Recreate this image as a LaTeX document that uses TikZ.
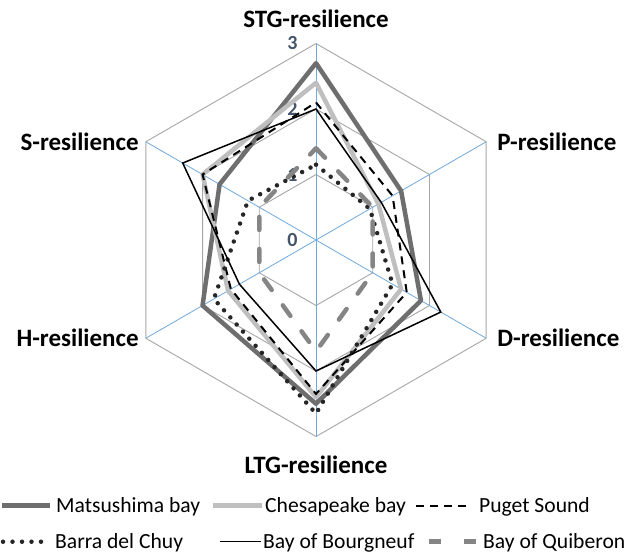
\documentclass[tikz,border=0pt]{standalone}
\usepackage{fontspec}
\setmainfont{Carlito}
\usetikzlibrary{positioning}
\definecolor{gridgray}{HTML}{A6A6A6}
\definecolor{spokeblue}{HTML}{6FA8DC}
\definecolor{tickblue}{HTML}{44546A}
\definecolor{matsugray}{HTML}{6E6E6E}
\definecolor{chesagray}{HTML}{BFBFBF}
\definecolor{quibgray}{HTML}{858585}
\begin{document}
\begin{tikzpicture}[x=1pt, y=1pt,
    gridline/.style={draw=gridgray, line width=0.9pt},
    spoke/.style={draw=spokeblue, line width=0.8pt},
    axlabel/.style={font=\bfseries\fontsize{25}{28}\selectfont, inner sep=0pt},
    ticklabel/.style={font=\bfseries\fontsize{20}{22}\selectfont, text=tickblue, anchor=east, inner sep=0pt},
    legtext/.style={font=\fontsize{21.6}{24}\selectfont, anchor=base west, inner sep=0pt},
    matsu/.style={draw=matsugray, line width=4.5pt, line join=round},
    chesa/.style={draw=chesagray, line width=4.5pt, line join=round},
    puget/.style={draw=black, line width=2pt, dash pattern=on 8pt off 6pt},
    barra/.style={draw=black!85, line width=4.5pt, line cap=round, dash pattern=on 0pt off 9.5pt},
    bourg/.style={draw=black, line width=1.5pt, line join=miter},
    quib/.style={draw=quibgray, line width=4.5pt, line cap=round, dash pattern=on 13pt off 19pt}]
    \useasboundingbox (0,0) rectangle (636,-555);
    \begin{scope}[shift={(316pt,-240pt)}, x=65.5pt, y=65.5pt]
        \foreach \r in {1, 2, 3} {
            \draw[gridline] (90:\r) \foreach \a in {30, -30, -90, -150, 150} { -- (\a:\r) } -- cycle;
        }
        \coordinate (O) at (0, 0);
        \coordinate (vSTG) at (90:3);
        \coordinate (vP) at (30:3);
        \coordinate (vD) at (-30:3);
        \coordinate (vLTG) at (-90:3);
        \coordinate (vH) at (-150:3);
        \coordinate (vS) at (150:3);
        \foreach \v in {vSTG, vP, vD, vLTG, vH, vS} {
            \draw[spoke] (O) -- (\v);
        }
        \foreach \r in {0, 1, 2, 3} {
            \node[ticklabel] (tick\r) at (-0.28, \r) {\r};
        }
        % series, in the order of the legend
        \draw[matsu] (90:2.7) -- (30:1.5) -- (-30:1.85) -- (-90:2.5) -- (-150:2.0) -- (150:1.7) -- cycle;
        \draw[chesa] (90:2.4) -- (30:1.1) -- (-30:1.5) -- (-90:2.4) -- (-150:1.55) -- (150:2.0) -- cycle;
        \draw[puget] (90:2.1) -- (30:1.35) -- (-30:1.6) -- (-90:2.35) -- (-150:1.5) -- (150:2.0) -- cycle;
        \draw[barra] (90:1.15) -- (30:0.95) -- (-30:1.35) -- (-90:2.65) -- (-150:1.8) -- (150:1.2) -- cycle;
        \draw[bourg] (90:2.0) -- (30:1.15) -- (-30:2.2) -- (-90:2.0) -- (-150:1.35) -- (150:2.35) -- cycle;
        \draw[quib] (90:1.4) -- (30:1.0) -- (-30:1.0) -- (-90:1.7) -- (-150:1.0) -- (150:1.0) -- cycle;
    \end{scope}
    \node[axlabel, above=16pt of vSTG] (lblSTG) {STG-resilience};
    \node[axlabel, right=11pt of vP] (lblP) {P-resilience};
    \node[axlabel, right=11pt of vD] (lblD) {D-resilience};
    \node[axlabel, below=19pt of vLTG] (lblLTG) {LTG-resilience};
    \node[axlabel, left=7pt of vH] (lblH) {H-resilience};
    \node[axlabel, left=7pt of vS] (lblS) {S-resilience};
    % legend
    \draw[matsu, line cap=butt] (2,-505.7) -- (50,-505.7);
    \node[legtext] (legMatsu) at (56,-512.2) {Matsushima bay};
    \draw[chesa, line cap=butt] (213,-505.7) -- (262,-505.7);
    \node[legtext] (legChesa) at (265,-512.2) {Chesapeake bay};
    \draw[puget] (416,-505.7) -- (468,-505.7);
    \node[legtext] (legPuget) at (479,-512.2) {Puget Sound};
    \draw[barra] (3,-541.7) -- (42,-541.7);
    \node[legtext] (legBarra) at (55,-548.2) {Barra del Chuy};
    \draw[bourg] (220,-541.7) -- (261,-541.7);
    \node[legtext] (legBourg) at (263,-548.2) {Bay of Bourgneuf};
    \draw[quib, line cap=butt, dash pattern=on 12pt off 23pt] (429,-541.7) -- (481,-541.7);
    \node[legtext] (legQuib) at (483,-548.2) {Bay of Quiberon};
\end{tikzpicture}
\end{document}
